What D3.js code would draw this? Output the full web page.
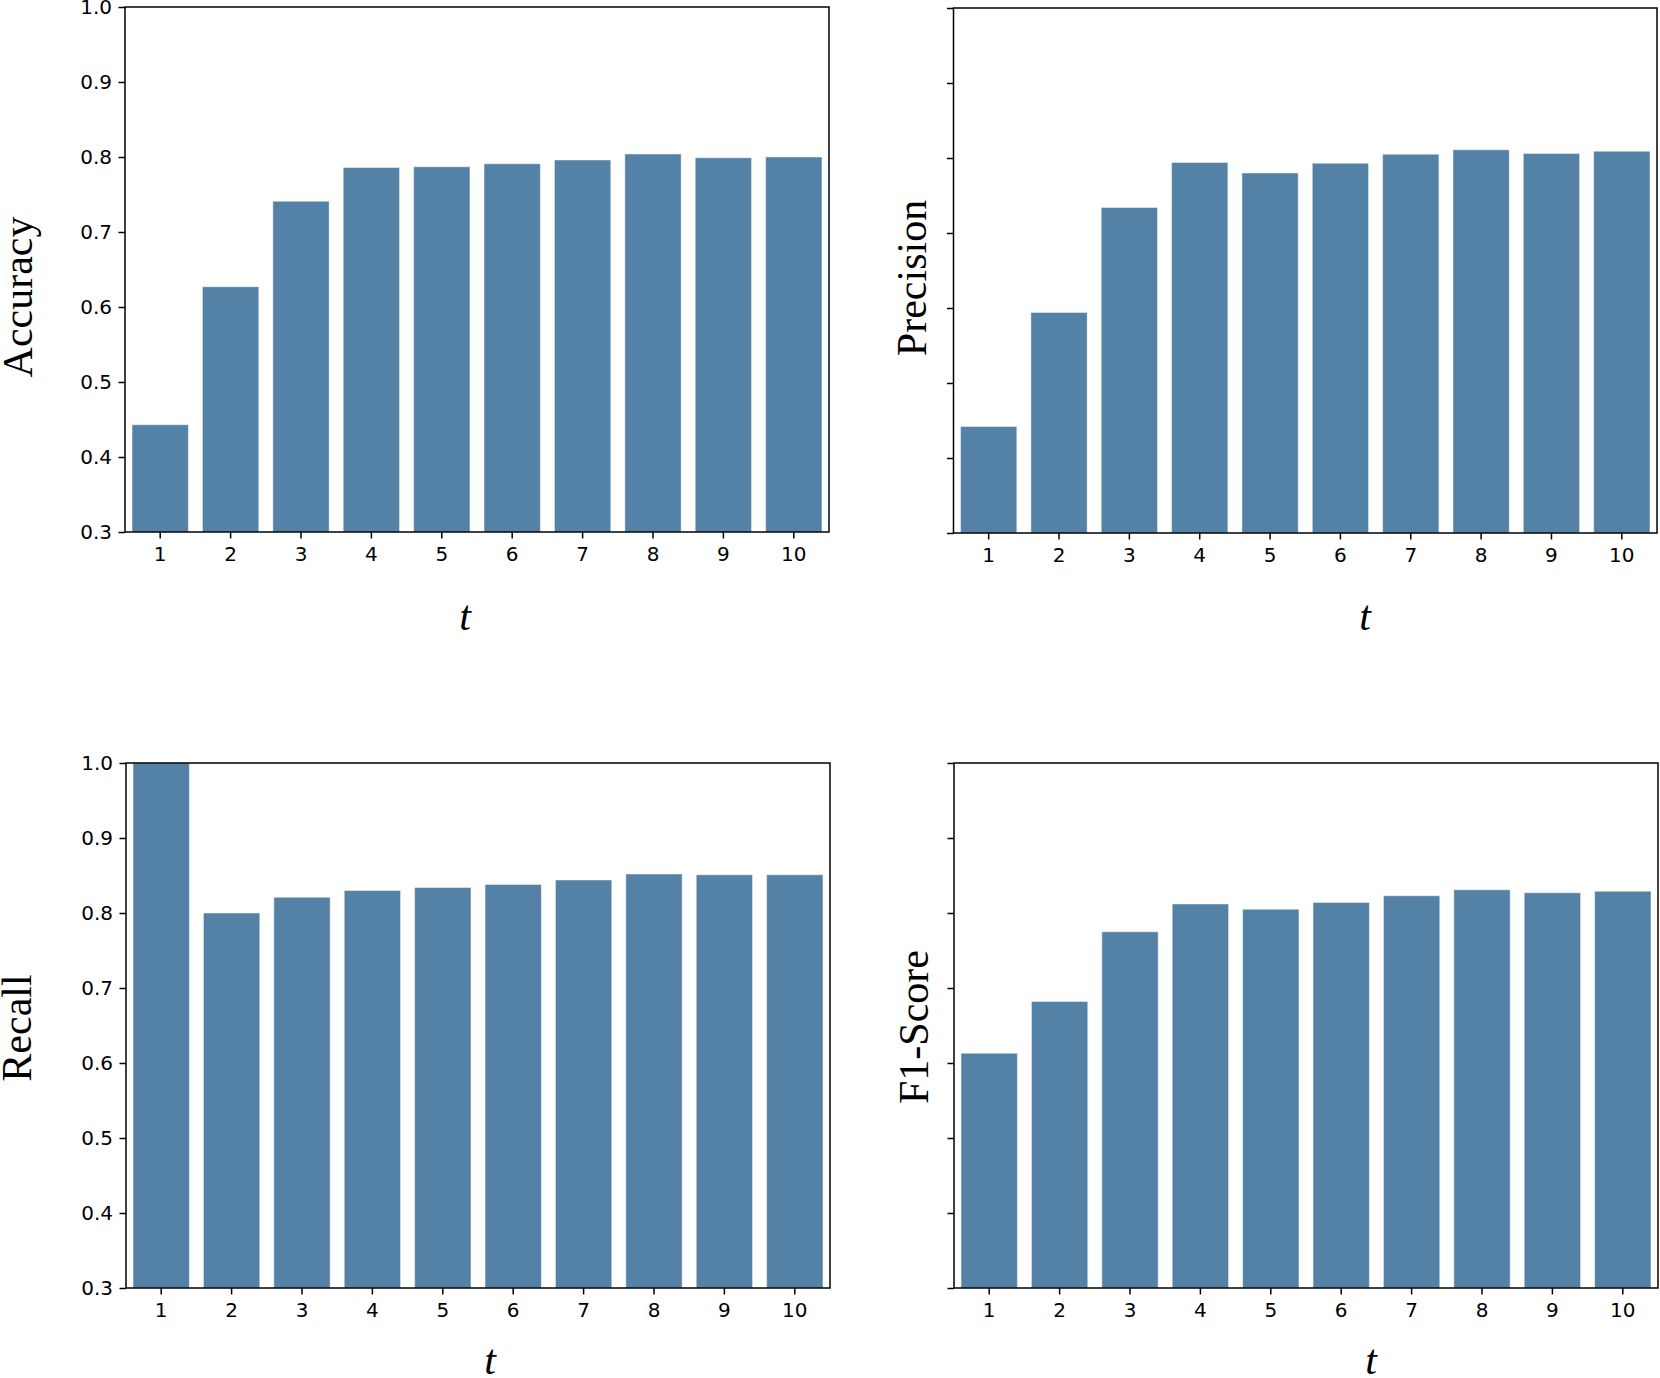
<!DOCTYPE html>
<html>
<head>
<meta charset="utf-8">
<script src="https://cdn.jsdelivr.net/npm/d3@7"></script>
<style>
  html, body { margin: 0; padding: 0; background: #fff; }
  svg { display: block; }
</style>
</head>
<body>
<svg id="chart" width="1660" height="1378"></svg>
<script>
// ---- data ----
const categories = ["1", "2", "3", "4", "5", "6", "7", "8", "9", "10"];
const accuracy  = [0.443, 0.627, 0.741, 0.786, 0.787, 0.791, 0.796, 0.804, 0.799, 0.800];
const precision = [0.442, 0.594, 0.734, 0.794, 0.780, 0.793, 0.805, 0.811, 0.806, 0.809];
const recall    = [1.000, 0.800, 0.821, 0.830, 0.834, 0.838, 0.844, 0.852, 0.851, 0.851];
const f1score   = [0.613, 0.682, 0.775, 0.812, 0.805, 0.814, 0.823, 0.831, 0.827, 0.829];
const yTicks = [0.3, 0.4, 0.5, 0.6, 0.7, 0.8, 0.9, 1.0];
const yDomain = [0.3, 1.0];
const xLabel = "t";

const panels = [
  { name: "Accuracy",  values: accuracy,  box: [125, 7, 829, 532],     showY: true,
    ylab: [32, 297], xlab: [465, 630] },
  { name: "Precision", values: precision, box: [953.5, 8, 1657, 533],  showY: false,
    ylab: [926, 278], xlab: [1365, 630] },
  { name: "Recall",    values: recall,    box: [126, 763, 830, 1288],  showY: true,
    ylab: [31, 1028], xlab: [490, 1374] },
  { name: "F1-Score",  values: f1score,   box: [954, 763, 1658, 1288], showY: false,
    ylab: [928, 1027], xlab: [1371, 1374] }
];

const svg = d3.select("#chart");
const barColor = "#5482a7";
const tickFont = "'DejaVu Sans', sans-serif";
const serifFont = "'Liberation Serif', 'Times New Roman', serif";

panels.forEach(p => {
  const [x0, y0, x1, y1] = p.box;
  const x = d3.scaleBand().domain(categories).range([x0, x1]).paddingInner(0.2).paddingOuter(0.1);
  const y = d3.scaleLinear().domain(yDomain).range([y1, y0]);

  const g = svg.append("g");

  // bars
  g.selectAll("rect.bar")
    .data(p.values)
    .join("rect")
    .attr("class", "bar")
    .attr("x", (d, i) => x(categories[i]))
    .attr("width", x.bandwidth())
    .attr("y", d => y(d))
    .attr("height", d => y(yDomain[0]) - y(d))
    .attr("fill", barColor)
    .attr("stroke", "#ffffff")
    .attr("stroke-opacity", 0.45)
    .attr("stroke-width", 1);

  // x axis
  const xa = g.append("g")
    .attr("transform", `translate(0,${y1})`)
    .call(d3.axisBottom(x).tickSize(6.5).tickPadding(8.5));
  // y axis
  const ya = g.append("g")
    .attr("transform", `translate(${x0},0)`)
    .call(d3.axisLeft(y).tickValues(yTicks).tickSize(6.5).tickPadding(6.5)
      .tickFormat(p.showY ? d3.format(".1f") : () => ""));

  [xa, ya].forEach(a => {
    a.attr("font-size", null).attr("font-family", null);
    a.select(".domain").remove();
    a.selectAll(".tick line").attr("stroke", "#000").attr("stroke-width", 1.5);
    a.selectAll(".tick text").attr("fill", "#000")
      .style("font-family", tickFont).style("font-size", "20px");
  });

  // spines (full box)
  g.append("rect")
    .attr("x", x0).attr("y", y0)
    .attr("width", x1 - x0).attr("height", y1 - y0)
    .attr("fill", "none").attr("stroke", "#000").attr("stroke-width", 1.5);

  // y label
  g.append("text")
    .attr("transform", `translate(${p.ylab[0]},${p.ylab[1]}) rotate(-90)`)
    .attr("text-anchor", "middle")
    .style("font-family", serifFont)
    .style("font-size", "42px")
    .attr("fill", "#000")
    .text(p.name);

  // x label
  g.append("text")
    .attr("x", p.xlab[0]).attr("y", p.xlab[1])
    .attr("text-anchor", "middle")
    .style("font-family", serifFont)
    .style("font-style", "italic")
    .style("font-size", "42px")
    .attr("fill", "#000")
    .text(xLabel);
});
</script>
</body>
</html>
